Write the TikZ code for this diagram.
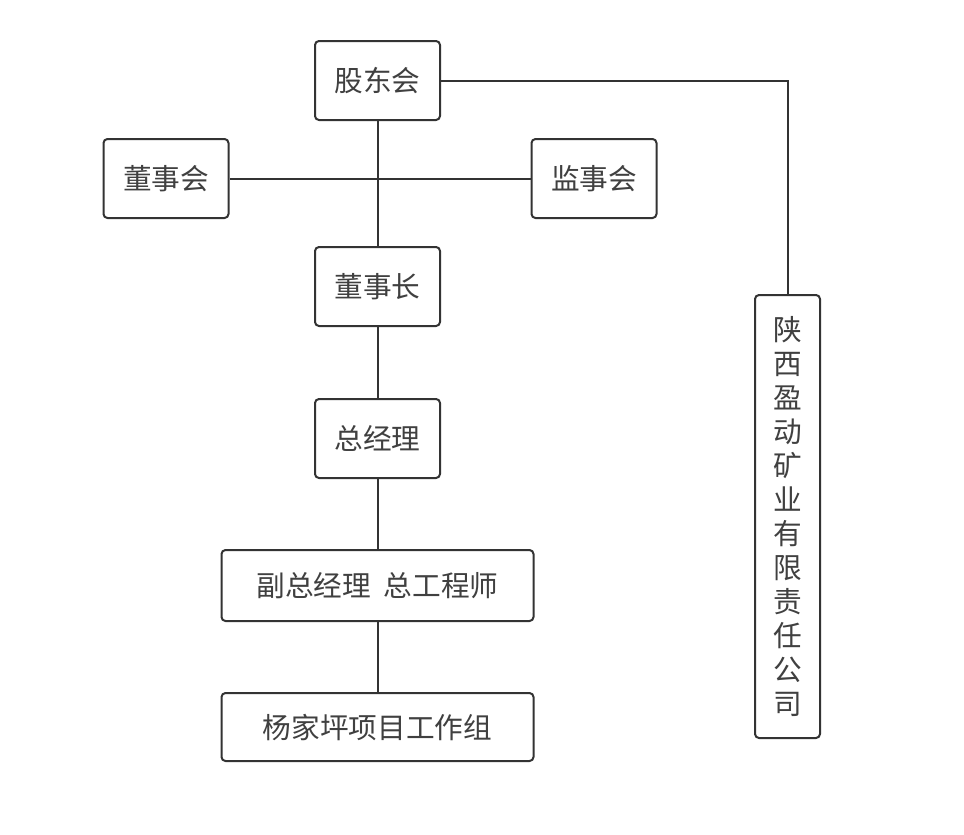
\documentclass[tikz,border=0pt]{standalone}
\usepackage{fontspec}
\newfontfamily\cjk{Noto Sans CJK SC}
\usetikzlibrary{calc}

\begin{document}
\begin{tikzpicture}[x=0.75pt,y=-0.75pt,
  box/.style={draw=black!80,line width=1.5pt,rounded corners=3pt,fill=white,
              font=\cjk\fontsize{21.5}{24}\selectfont,text=black!75,inner sep=0pt},
  small/.style={box,minimum width=93.75pt,minimum height=59.25pt},
  wide/.style={box,minimum width=234pt},
  link/.style={draw=black!80,line width=1.5pt}]
  \useasboundingbox (0,0) rectangle (964,835);
  \node[small] (gudong) at (377.5,80.5) {股东会};
  \node[small] (dongshi) at (166,178.5) {董事会};
  \node[small] (jianshi) at (594,178.5) {监事会};
  \node[small] (dsz) at (377.5,286.5) {董事长};
  \node[small] (zjl) at (377.5,438.5) {总经理};
  \node[wide,minimum height=53.25pt] (fuzong) at (377.5,585.5) {副总经理\ \ 总工程师};
  \node[wide,minimum height=51pt] (xmz) at (377.5,727) {杨家坪项目工作组};
  \node[box,minimum width=48.75pt,minimum height=332.25pt,align=center,
        font=\cjk\fontsize{21.5}{25.5}\selectfont] (gongsi) at (787.5,516.5)
    {陕\\西\\盈\\动\\矿\\业\\有\\限\\责\\任\\公\\司};
  % connectors
  \draw[link] (gudong) -- (dsz);
  \draw[link] (dongshi) -- (jianshi);
  \draw[link] (dsz) -- (zjl);
  \draw[link] (zjl) -- (fuzong);
  \draw[link] (fuzong) -- (xmz);
  \draw[link] (gudong.east) -| (gongsi.north);
\end{tikzpicture}
\end{document}
